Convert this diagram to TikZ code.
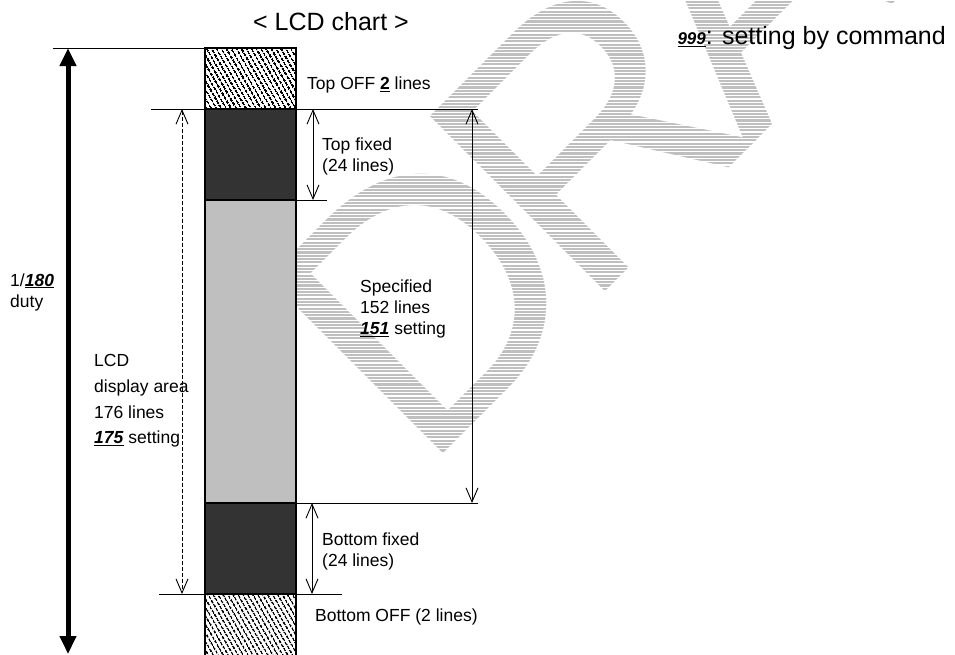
\documentclass[tikz,border=0pt]{standalone}
\usepackage{fontspec}
\setmainfont{Liberation Sans}
\usetikzlibrary{arrows.meta,patterns.meta}

\newcommand{\setnum}[1]{\underline{\textbf{\textit{#1}}}}

\begin{document}
\begin{tikzpicture}[x=1pt, y=-1pt,
    lbl/.style={inner sep=0pt, anchor=west, align=left, font=\fontsize{17.5}{21}\selectfont},
    rule/.style={line width=0.9pt},
    dim/.style={rule, {Straight Barb[length=14pt,width=12pt]}-{Straight Barb[length=14pt,width=12pt]}},
    cell/.style={draw, line width=1.2pt},
    offcell/.style={cell, pattern={Lines[angle=-60,distance=4pt,line width=1.8pt]}}]
    \useasboundingbox (0,0) rectangle (955,654);
    \clip (0,0) rectangle (955,654);

    % watermark
    \node[rotate=45, anchor=base west, inner sep=0pt, text=gray!50, font=\fontsize{360}{360}\selectfont] (draft) at (422,475) {D\kern-30pt R\kern-30pt A\kern-30pt F\kern-30pt T};
    \foreach \k in {0,...,200}
        \draw[white, line width=1.2pt] (0,{3.3*\k}) -- (955,{3.3*\k});

    % column
    \path[offcell] (205,48) rectangle (296,109);
    \filldraw[cell, fill=black!80] (205,109) rectangle (296,200);
    \filldraw[cell, fill=gray!50] (205,200) rectangle (296,503);
    \filldraw[cell, fill=black!80] (205,503) rectangle (296,594);
    \path[offcell] (205,594) rectangle (296,670);

    % guide lines
    \coordinate (g0l) at (53,48);   \coordinate (g0r) at (205,48);
    \coordinate (g1l) at (151,109); \coordinate (g1r) at (478,109);
    \coordinate (g2l) at (296,200); \coordinate (g2r) at (327,200);
    \coordinate (g3l) at (296,503); \coordinate (g3r) at (478,503);
    \coordinate (g4l) at (159,594); \coordinate (g4r) at (342,594);
    \foreach \g in {0,...,4}
        \draw[rule] (g\g l) -- (g\g r);

    % arrows
    \coordinate (dutyT) at (68,48);   \coordinate (dutyB) at (68,654);
    \coordinate (areaT) at (182,109); \coordinate (areaB) at (182,594);
    \coordinate (tfixT) at (313,109); \coordinate (tfixB) at (313,200);
    \coordinate (specT) at (472,109); \coordinate (specB) at (472,503);
    \coordinate (bfixT) at (312,503); \coordinate (bfixB) at (312,594);
    \draw[line width=5pt, {Triangle[length=18pt,width=16pt]}-{Triangle[length=18pt,width=16pt]}] (dutyT) -- (dutyB);
    \draw[dim, dash pattern=on 4pt off 2pt] (areaT) -- (areaB);
    \draw[dim] (tfixT) -- (tfixB);
    \draw[dim] (specT) -- (specB);
    \draw[dim] (bfixT) -- (bfixB);

    % labels
    \node[inner sep=0pt, anchor=west, font=\fontsize{25}{30}\selectfont] (title) at (253,22) {< LCD chart >};
    \node[inner sep=0pt, anchor=east, font=\fontsize{25}{30}\selectfont] (legend) at (946,38) {{\fontsize{17}{20}\selectfont\setnum{999}}: setting by command};
    \node[lbl] (topoff) at (307,85) {Top OFF \underline{\textbf{2}} lines};
    \node[lbl] (topfix) at (322,156) {Top fixed\\(24 lines)};
    \node[lbl] (spec) at (360,309) {Specified\\152 lines\\\setnum{151} setting};
    \node[lbl] (botfix) at (322,551) {Bottom fixed\\(24 lines)};
    \node[lbl] (botoff) at (315,617) {Bottom OFF (2 lines)};
    \node[lbl] (duty) at (10,292) {1/\setnum{180}\\duty};
    \node[lbl, font=\fontsize{17.5}{25.7}\selectfont] (lcd) at (94,401) {LCD\\display area\\176 lines\\\setnum{175} setting};
\end{tikzpicture}
\end{document}
